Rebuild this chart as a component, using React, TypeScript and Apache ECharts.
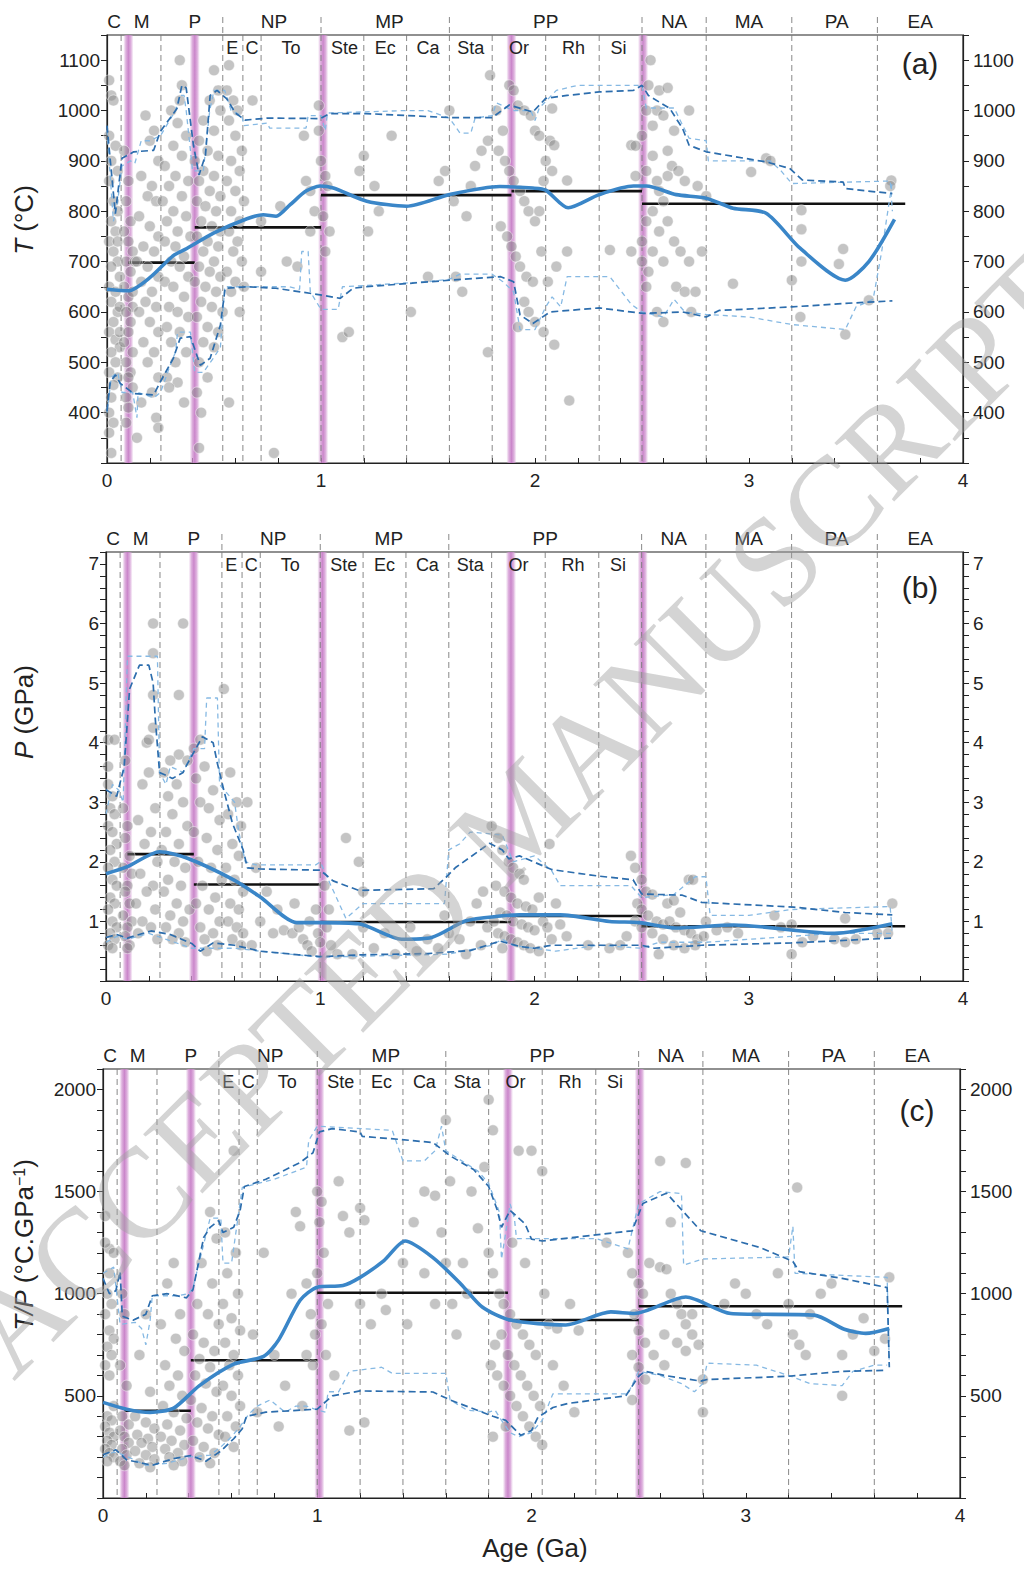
import React, { useEffect, useRef } from "react";
import * as echarts from "echarts";

// ---------- geological time scale ----------
const boundaries = [0.066, 0.252, 0.541, 0.635, 0.72, 1.0, 1.2, 1.4, 1.6, 1.8, 2.05, 2.3, 2.5, 2.8, 3.2, 3.6];
const eonBoundaries = [0.541, 1.0, 1.6, 2.5, 2.8, 3.2, 3.6];
const pinkBands = [0.1, 0.41, 1.01, 1.89, 2.505];
const eraLabels = ["C", "M", "P", "NP", "MP", "PP", "NA", "MA", "PA", "EA"];
const eraPos = [0.033, 0.162, 0.41, 0.78, 1.32, 2.05, 2.65, 3.0, 3.41, 3.8];
const periodLabels = ["E", "C", "To", "Ste", "Ec", "Ca", "Sta", "Or", "Rh", "Si"];
const periodPos = [0.585, 0.678, 0.86, 1.11, 1.3, 1.5, 1.7, 1.925, 2.18, 2.39];

// ---------- eon-interval averages (black segments) ----------
const segStarts = [0.1, 0.41, 1.0, 1.89, 2.5];
const segEnds = [0.41, 1.0, 1.89, 2.5, 3.73];
const segA = [698, 768, 832, 840, 815];
const segB = [2.13, 1.62, 0.99, 1.09, 0.92];
const segC = [427, 674, 1005, 871, 939];

// ---------- panel (a) T ----------
const meanA = [[0,645],[0.1,642],[0.2,668],[0.31,712],[0.373,726],[0.5,757],[0.654,785],[0.73,793],[0.79,790],[0.856,813],[0.93,840],[0.996,850],[1.058,846],[1.214,820],[1.4,810],[1.6,833],[1.836,849],[1.99,846],[2.05,842],[2.155,807],[2.3,833],[2.46,850],[2.52,850],[2.66,833],[2.8,826],[2.925,806],[3.08,796],[3.24,726],[3.45,663],[3.56,700],[3.68,784]];
const hiA = [[0,970],[0.039,795],[0.07,905],[0.125,918],[0.218,921],[0.249,958],[0.327,1004],[0.35,1050],[0.37,1045],[0.404,931],[0.43,872],[0.46,911],[0.482,1030],[0.514,1040],[0.56,1023],[0.6,995],[0.646,981],[0.75,985],[0.996,984],[1.04,994],[1.21,994],[1.4,990],[1.6,986],[1.8,986],[1.88,1011],[1.99,997],[2.05,1024],[2.15,1030],[2.3,1037],[2.46,1040],[2.5,1050],[2.53,1030],[2.63,1004],[2.69,964],[2.72,931],[2.8,918],[3.08,898],[3.19,885],[3.25,862],[3.44,858],[3.45,845],[3.67,835]];
const loA = [[0,403],[0.015,461],[0.04,475],[0.062,458],[0.124,438],[0.218,435],[0.249,461],[0.31,508],[0.342,548],[0.39,551],[0.436,494],[0.482,508],[0.53,574],[0.552,647],[0.654,650],[0.79,647],[0.996,634],[1.09,627],[1.15,647],[1.21,650],[1.6,663],[1.84,670],[1.9,660],[1.93,594],[1.99,577],[2.07,600],[2.3,608],[2.505,597],[2.69,600],[2.8,590],[2.86,603],[3.2,610],[3.45,617],[3.67,622]];
const hiLA = [[0,960],[0.03,780],[0.05,820],[0.07,890],[0.11,900],[0.13,895],[0.16,940],[0.2,940],[0.25,950],[0.32,1000],[0.34,1030],[0.36,1030],[0.37,1000],[0.4,880],[0.45,880],[0.48,1000],[0.5,1040],[0.55,1040],[0.58,1000],[0.63,990],[0.64,970],[0.75,975],[0.76,965],[0.93,965],[0.94,990],[1.0,990],[1.02,960],[1.03,995],[1.4,1000],[1.5,1000],[1.6,985],[1.65,955],[1.7,955],[1.72,985],[1.8,990],[1.82,1015],[1.9,1000],[1.98,1000],[2.0,980],[2.02,1005],[2.1,1040],[2.2,1050],[2.5,1050],[2.52,1005],[2.65,1005],[2.72,945],[2.8,940],[2.81,900],[3.1,900],[3.15,880],[3.2,855],[3.66,860],[3.67,800]];
const loLA = [[0,400],[0.02,470],[0.05,480],[0.07,440],[0.12,440],[0.14,390],[0.145,440],[0.22,430],[0.25,440],[0.3,500],[0.32,520],[0.33,560],[0.39,560],[0.41,480],[0.45,480],[0.5,510],[0.53,530],[0.55,650],[0.7,650],[0.85,650],[0.9,645],[0.91,720],[0.94,720],[0.95,640],[1.0,605],[1.08,605],[1.1,650],[1.5,660],[1.6,665],[1.65,675],[1.8,675],[1.85,660],[1.9,640],[1.93,565],[2.0,565],[2.05,610],[2.08,630],[2.12,610],[2.15,670],[2.35,670],[2.45,615],[2.5,600],[2.6,590],[2.65,625],[2.7,600],[2.8,595],[3.0,590],[3.2,575],[3.45,565],[3.5,610],[3.58,625],[3.62,720],[3.67,860]];
const scatterA = [
[0.01,1060],[0.02,1030],[0.03,1020],[0.01,950],[0.04,930],[0.02,900],[0.05,880],[0.01,860],[0.03,820],[0.05,800],[0.02,780],[0.04,760],[0.01,740],[0.03,720],[0.05,700],[0.02,690],[0.06,670],[0.01,650],[0.04,640],[0.02,620],[0.05,600],[0.03,580],[0.01,560],[0.04,545],[0.06,530],[0.02,520],[0.04,500],[0.01,480],[0.05,470],[0.03,455],[0.02,430],[0.01,400],[0.03,380],[0.01,360],[0.02,320],[0.06,610],[0.06,560],[0.05,740],
[0.08,920],[0.10,860],[0.09,820],[0.11,780],[0.08,760],[0.10,740],[0.12,720],[0.09,700],[0.11,680],[0.08,650],[0.10,630],[0.12,610],[0.09,600],[0.11,580],[0.10,560],[0.08,540],[0.12,520],[0.09,500],[0.11,480],[0.10,470],[0.12,450],[0.09,430],[0.10,410],[0.09,380],[0.12,640],[0.13,700],
[0.18,990],[0.22,960],[0.20,940],[0.24,900],[0.16,870],[0.21,850],[0.19,830],[0.23,820],[0.15,790],[0.20,770],[0.24,750],[0.17,730],[0.22,720],[0.14,700],[0.19,690],[0.24,670],[0.16,660],[0.21,640],[0.18,620],[0.23,610],[0.15,600],[0.20,580],[0.24,560],[0.17,540],[0.22,520],[0.19,500],[0.24,470],[0.21,440],[0.16,420],[0.23,390],[0.24,370],[0.14,350],
[0.34,1100],[0.35,1050],[0.34,1020],[0.30,1000],[0.33,975],[0.37,950],[0.31,930],[0.35,910],[0.27,890],[0.32,870],[0.38,860],[0.29,850],[0.35,830],[0.26,820],[0.31,800],[0.37,790],[0.28,780],[0.33,760],[0.39,750],[0.27,740],[0.32,730],[0.36,710],[0.30,700],[0.34,690],[0.38,670],[0.27,660],[0.31,650],[0.36,630],[0.29,610],[0.33,600],[0.38,590],[0.28,570],[0.34,560],[0.30,540],[0.37,520],[0.32,500],[0.28,470],[0.33,460],[0.29,450],[0.36,420],
[0.50,1080],[0.52,1040],[0.48,1020],[0.53,1000],[0.45,980],[0.50,960],[0.43,940],[0.47,920],[0.52,910],[0.41,900],[0.45,880],[0.50,870],[0.43,860],[0.48,840],[0.53,830],[0.42,820],[0.46,810],[0.51,800],[0.44,780],[0.49,770],[0.53,760],[0.42,750],[0.47,740],[0.52,730],[0.45,720],[0.50,700],[0.43,690],[0.48,680],[0.53,670],[0.41,660],[0.46,650],[0.51,640],[0.44,620],[0.49,610],[0.54,600],[0.42,590],[0.47,570],[0.52,560],[0.45,540],[0.50,530],[0.43,500],[0.47,470],[0.42,440],[0.44,400],[0.43,330],
[0.57,1090],[0.56,1040],[0.59,1020],[0.61,1000],[0.57,980],[0.60,950],[0.63,920],[0.58,900],[0.62,880],[0.56,860],[0.60,840],[0.64,820],[0.58,800],[0.62,780],[0.57,760],[0.61,740],[0.59,720],[0.63,700],[0.56,680],[0.60,660],[0.58,640],[0.62,600],[0.57,420],[0.64,650],
[0.68,1020],[0.72,780],[0.81,810],[0.84,700],[0.93,860],[0.95,840],[0.97,800],[0.95,760],[0.99,1010],[0.99,960],[1.00,900],[0.92,950],[0.78,320],[0.72,680],[0.89,690],
[1.02,870],[1.03,850],[1.01,790],[1.04,760],[1.02,720],[1.10,550],[1.13,560],[1.18,880],[1.20,910],[1.25,850],[1.27,800],[1.22,760],[1.33,950],[1.42,600],[1.55,860],[1.58,880],[1.60,1000],[1.62,820],[1.68,790],[1.70,850],[1.72,890],[1.75,920],[1.78,940],[1.79,1070],[1.78,520],[1.63,670],[1.50,670],[1.66,640],
[1.82,1000],[1.85,960],[1.88,1050],[1.90,1040],[1.92,1010],[1.95,1000],[1.98,990],[2.00,960],[2.02,950],[1.83,920],[1.86,900],[1.88,880],[1.90,860],[1.93,840],[1.95,820],[1.97,800],[2.00,780],[1.84,770],[1.87,750],[1.89,730],[1.91,710],[1.93,690],[1.96,670],[1.99,660],[2.02,800],[2.04,860],[2.05,900],[2.07,940],[2.08,880],[2.10,690],[2.00,580],[1.95,620],[2.03,720],[2.06,660],[1.92,570],[1.97,600],[2.04,560],[2.09,535],[2.08,1004],[2.09,931],
[2.15,861],[2.15,720],[2.16,424],[2.35,723],[2.45,931],[2.45,720],
[2.54,1100],[2.53,1050],[2.58,1040],[2.62,1045],[2.57,1000],[2.60,990],[2.52,1000],[2.55,970],[2.65,960],[2.72,1000],[2.62,920],[2.55,910],[2.50,950],[2.47,930],[2.47,870],[2.52,880],[2.57,860],[2.62,870],[2.64,890],[2.67,880],[2.70,860],[2.58,840],[2.60,820],[2.55,800],[2.52,780],[2.58,760],[2.62,780],[2.65,740],[2.68,720],[2.72,700],[2.50,740],[2.55,720],[2.60,700],[2.53,680],[2.57,600],[2.60,580],[2.66,650],[2.70,640],[2.75,640],[2.78,720],[2.73,600],[2.50,700],[2.52,650],[2.80,830],[2.76,850],
[3.01,878],[3.08,905],[3.10,900],[2.925,656],[3.245,802],[3.245,764],[3.245,700],[3.24,590],[3.42,695],[3.45,555],[3.56,623],[3.44,725],[3.20,663],[3.665,861],[3.66,850]
];

// ---------- panel (b) P ----------
const meanB = [[0,1.8],[0.1,1.92],[0.25,2.17],[0.38,2.06],[0.6,1.69],[0.72,1.41],[0.89,0.98],[1.0,0.98],[1.18,0.96],[1.38,0.70],[1.52,0.73],[1.68,1.01],[1.84,1.09],[1.93,1.11],[2.12,1.11],[2.35,1.0],[2.49,0.98],[2.66,0.89],[2.93,0.94],[3.4,0.8],[3.67,0.96]];
const hiB = [[0,3.21],[0.05,3.1],[0.085,3.6],[0.11,4.9],[0.156,5.3],[0.2,5.3],[0.22,5.0],[0.23,4.4],[0.25,3.5],[0.31,3.4],[0.36,3.5],[0.37,3.58],[0.45,4.1],[0.5,4.0],[0.52,3.65],[0.55,3.2],[0.59,2.65],[0.64,2.2],[0.66,1.9],[0.72,1.88],[1.0,1.86],[1.06,1.68],[1.18,1.52],[1.53,1.55],[1.59,1.75],[1.63,1.9],[1.79,2.31],[1.85,2.2],[1.88,2.05],[1.93,2.1],[2.08,1.87],[2.3,1.76],[2.46,1.7],[2.5,1.46],[2.69,1.44],[2.78,1.32],[3.21,1.24],[3.45,1.15],[3.67,1.11]];
const loB = [[0,0.73],[0.05,0.78],[0.1,0.72],[0.21,0.84],[0.3,0.78],[0.4,0.63],[0.44,0.5],[0.5,0.64],[0.6,0.6],[0.72,0.5],[0.9,0.44],[1.0,0.41],[1.2,0.44],[1.5,0.46],[1.7,0.51],[1.84,0.67],[1.93,0.58],[2.0,0.55],[2.08,0.6],[2.5,0.6],[2.56,0.55],[2.78,0.6],[3.2,0.64],[3.67,0.72]];
const hiLB = [[0,2.8],[0.03,3.3],[0.06,3.2],[0.08,3.0],[0.1,5.45],[0.24,5.45],[0.25,3.5],[0.28,3.3],[0.3,3.6],[0.36,3.5],[0.41,3.9],[0.46,3.9],[0.47,4.75],[0.52,4.75],[0.53,3.3],[0.6,3.0],[0.62,2.5],[0.65,2.0],[0.7,1.95],[0.98,1.95],[1.0,2.0],[1.05,1.6],[1.12,1.05],[1.2,1.3],[1.58,1.3],[1.6,2.2],[1.65,2.3],[1.7,2.5],[1.85,2.45],[1.9,2.0],[2.0,2.1],[2.08,1.85],[2.12,1.6],[2.45,1.6],[2.5,1.4],[2.65,1.45],[2.75,1.75],[2.8,1.75],[2.82,1.1],[3.0,1.1],[3.2,1.2],[3.66,1.25],[3.67,0.8]];
const loLB = [[0,0.65],[0.05,0.75],[0.1,0.7],[0.2,0.8],[0.4,0.55],[0.6,0.55],[0.72,0.5],[1.0,0.4],[1.6,0.45],[1.8,0.6],[1.85,0.7],[1.9,0.6],[2.0,0.55],[2.1,0.5],[2.3,0.6],[2.5,0.55],[2.58,0.65],[2.8,0.65],[3.2,0.75],[3.4,0.8],[3.67,0.8]];
const scatterB = [
[0.22,6.0],[0.36,6.0],[0.22,5.5],[0.34,4.8],[0.55,4.9],[0.22,4.8],[0.22,4.25],[0.01,4.05],[0.04,4.05],[0.19,4.0],[0.2,4.05],[0.44,4.05],[0.41,3.9],[0.34,3.8],[0.38,3.7],[0.01,3.6],[0.09,3.7],
[0.01,3.3],[0.03,3.1],[0.02,2.9],[0.04,2.8],[0.01,2.6],[0.03,2.5],[0.05,2.3],[0.02,2.2],[0.04,2.0],[0.01,1.9],[0.03,1.7],[0.05,1.6],[0.02,1.4],[0.04,1.3],[0.01,1.2],[0.03,1.0],[0.05,0.9],[0.02,0.8],[0.04,0.7],[0.01,0.6],[0.03,0.55],
[0.08,2.9],[0.1,2.6],[0.09,2.4],[0.11,2.1],[0.08,1.9],[0.12,1.8],[0.1,1.6],[0.09,1.5],[0.11,1.3],[0.08,1.1],[0.12,1.0],[0.1,0.9],[0.09,0.75],[0.11,0.6],[0.1,0.55],
[0.2,3.5],[0.17,3.3],[0.23,2.9],[0.15,2.7],[0.21,2.5],[0.18,2.3],[0.24,2.0],[0.16,1.8],[0.22,1.6],[0.19,1.5],[0.14,1.3],[0.23,1.2],[0.17,1.0],[0.21,0.9],[0.15,0.8],[0.24,0.7],
[0.3,3.7],[0.27,3.5],[0.33,3.3],[0.29,3.1],[0.36,3.0],[0.31,2.8],[0.38,2.6],[0.28,2.5],[0.34,2.3],[0.26,2.2],[0.32,2.0],[0.37,1.9],[0.29,1.7],[0.35,1.6],[0.27,1.5],[0.33,1.3],[0.39,1.2],[0.3,1.1],[0.36,1.0],[0.28,0.9],[0.34,0.8],[0.31,0.7],[0.37,0.65],
[0.46,3.6],[0.42,3.4],[0.5,3.2],[0.44,3.0],[0.48,2.9],[0.53,2.7],[0.41,2.5],[0.47,2.4],[0.52,2.2],[0.43,2.0],[0.49,1.9],[0.54,1.7],[0.45,1.6],[0.51,1.4],[0.42,1.3],[0.48,1.2],[0.53,1.0],[0.44,0.9],[0.5,0.8],[0.46,0.7],[0.52,0.6],[0.47,0.5],
[0.58,3.5],[0.61,3.0],[0.57,2.8],[0.63,2.6],[0.59,2.3],[0.62,2.1],[0.56,1.9],[0.6,1.7],[0.64,1.5],[0.58,1.3],[0.62,1.2],[0.57,1.0],[0.61,0.9],[0.64,0.8],[0.59,0.7],[0.63,0.6],
[0.66,3.0],[0.7,1.9],[0.75,1.5],[0.8,1.2],[0.83,0.85],[0.87,0.8],[0.9,0.9],[0.92,0.7],[0.94,0.6],[0.96,0.5],[0.98,1.2],[0.99,0.8],[1.0,0.65],[0.95,1.0],[0.88,1.3],[0.72,1.0],[0.78,0.8],[0.68,0.6],
[1.02,1.6],[1.04,1.2],[1.03,0.9],[1.05,0.6],[1.08,0.45],[1.15,0.45],[1.12,2.4],[1.18,2.0],[1.2,1.5],[1.2,0.9],[1.25,0.55],[1.35,0.45],[1.45,0.5],[1.55,0.55],[1.6,0.8],[1.65,0.7],[1.7,1.0],[1.73,1.3],[1.76,1.5],[1.78,0.9],[1.75,0.6],[1.68,0.45],[1.42,0.9],[1.3,0.8],[1.5,0.7],[1.58,1.1],
[1.8,2.6],[1.83,2.4],[1.85,2.2],[1.88,2.0],[1.9,1.9],[1.93,1.8],[1.95,1.7],[1.82,1.6],[1.86,1.5],[1.89,1.4],[1.92,1.3],[1.96,1.25],[1.99,1.2],[1.84,1.15],[1.87,1.1],[1.9,1.0],[1.94,0.95],[1.97,0.9],[2.0,0.85],[1.83,0.8],[1.86,0.75],[1.89,0.7],[1.92,0.65],[1.95,0.6],[1.98,0.55],[2.02,0.5],[1.81,1.0],[1.85,0.55],[2.04,1.0],[2.06,0.9],[2.08,0.7],[2.1,1.3],[2.07,2.3],[2.12,0.95],[2.02,1.4],
[2.15,0.75],[2.25,0.6],[2.35,0.55],[2.4,0.6],[2.43,0.75],
[2.45,2.1],[2.47,1.9],[2.5,1.7],[2.52,1.5],[2.55,1.45],[2.48,1.3],[2.5,1.2],[2.53,1.1],[2.57,1.0],[2.6,0.95],[2.63,1.0],[2.66,0.9],[2.7,0.85],[2.73,0.8],[2.76,0.7],[2.79,0.75],[2.47,1.0],[2.5,0.9],[2.55,0.8],[2.6,0.7],[2.65,0.6],[2.7,0.55],[2.75,0.6],[2.58,0.45],[2.62,1.3],[2.65,1.35],[2.72,1.7],[2.74,1.7],[2.68,1.15],[2.8,1.0],
[2.85,0.85],[2.9,0.9],[2.95,0.8],[3.15,0.9],[3.2,0.95],[3.25,0.65],[3.3,0.75],[3.4,0.7],[3.45,0.65],[3.5,0.7],[3.45,1.05],[3.6,0.8],[3.65,0.8],[3.67,1.3],[3.2,0.45],[3.12,1.1]
];

// ---------- panel (c) T/P ----------
const meanC = [[0,468],[0.11,435],[0.22,419],[0.33,440],[0.45,550],[0.61,655],[0.75,693],[0.82,774],[0.92,968],[1.0,1032],[1.12,1040],[1.2,1080],[1.31,1161],[1.41,1258],[1.54,1177],[1.67,1048],[1.77,935],[1.9,871],[2.16,847],[2.37,911],[2.48,903],[2.72,984],[2.93,903],[3.32,895],[3.46,826],[3.56,806],[3.67,830]];
const hiC = [[0,1075],[0.03,1000],[0.06,1015],[0.08,1108],[0.09,890],[0.14,870],[0.2,900],[0.23,990],[0.3,1000],[0.39,980],[0.42,1020],[0.47,1275],[0.5,1325],[0.54,1358],[0.56,1300],[0.61,1325],[0.64,1408],[0.66,1525],[0.76,1560],[0.92,1642],[0.98,1690],[1.01,1792],[1.07,1808],[1.2,1792],[1.21,1770],[1.39,1755],[1.54,1740],[1.62,1675],[1.73,1608],[1.8,1525],[1.84,1410],[1.86,1325],[1.9,1408],[1.97,1342],[2.0,1267],[2.05,1258],[2.3,1288],[2.47,1308],[2.52,1442],[2.63,1492],[2.79,1308],[3.07,1225],[3.22,1158],[3.25,1108],[3.45,1075],[3.66,1030],[3.67,640]];
const loC = [[0,212],[0.06,236],[0.11,187],[0.23,160],[0.33,193],[0.41,208],[0.48,180],[0.55,230],[0.61,290],[0.65,339],[0.67,400],[0.76,420],[1.0,435],[1.07,500],[1.2,524],[1.54,519],[1.62,480],[1.82,400],[1.88,380],[1.95,307],[2.0,330],[2.03,395],[2.1,443],[2.17,463],[2.44,500],[2.5,596],[2.53,620],[2.62,600],[2.79,572],[2.82,580],[3.2,596],[3.45,620],[3.66,625]];
const hiLC = [[0,1100],[0.05,1130],[0.08,850],[0.15,860],[0.18,830],[0.2,750],[0.22,870],[0.23,990],[0.35,990],[0.4,1000],[0.42,1030],[0.5,1370],[0.55,1370],[0.56,1150],[0.6,1150],[0.65,1520],[0.8,1560],[0.95,1620],[0.96,1750],[1.0,1820],[1.35,1800],[1.4,1650],[1.5,1650],[1.55,1700],[1.58,1820],[1.6,1700],[1.75,1600],[1.8,1540],[1.85,1400],[1.86,1170],[1.88,1300],[1.9,1440],[1.92,1370],[1.93,1270],[2.3,1270],[2.45,1220],[2.5,1440],[2.6,1500],[2.7,1490],[2.71,1140],[2.8,1170],[3.2,1180],[3.22,1330],[3.23,1100],[3.45,1090],[3.66,1080],[3.67,650]];
const loLC = [[0,200],[0.05,225],[0.1,210],[0.2,160],[0.3,170],[0.4,200],[0.5,210],[0.55,250],[0.6,300],[0.64,350],[0.68,410],[0.72,450],[0.78,480],[0.85,420],[0.9,450],[0.95,450],[1.0,430],[1.04,420],[1.05,520],[1.1,520],[1.15,620],[1.3,640],[1.35,610],[1.6,610],[1.62,480],[1.7,430],[1.8,420],[1.83,430],[1.86,380],[1.9,320],[1.94,300],[2.0,320],[2.05,380],[2.1,510],[2.45,510],[2.5,620],[2.6,600],[2.7,560],[2.76,520],[2.8,560],[2.82,660],[3.05,650],[3.2,600],[3.3,560],[3.45,550],[3.5,620],[3.6,650],[3.66,650]];
const scatterC = [
[0.01,1380],[0.03,1220],[0.05,1200],[0.01,1250],[0.03,1100],[0.02,1000],[0.04,950],[0.01,900],[0.03,820],[0.05,780],[0.02,740],[0.04,700],[0.01,650],[0.03,600],[0.05,450],[0.02,400],[0.04,380],[0.01,350],[0.03,320],[0.05,300],[0.02,280],[0.04,260],[0.01,240],[0.03,220],[0.05,200],[0.02,180],
[0.09,1000],[0.1,900],[0.08,650],[0.11,550],[0.09,400],[0.12,360],[0.08,330],[0.1,300],[0.12,270],[0.09,240],[0.11,210],[0.08,180],[0.1,160],
[0.2,900],[0.17,700],[0.22,520],[0.15,400],[0.2,370],[0.24,340],[0.16,310],[0.21,290],[0.18,270],[0.23,250],[0.15,230],[0.2,210],[0.24,190],[0.17,170],[0.22,150],
[0.33,1150],[0.3,1050],[0.36,900],[0.27,850],[0.34,780],[0.38,720],[0.29,650],[0.35,600],[0.31,550],[0.37,500],[0.28,450],[0.33,420],[0.39,390],[0.3,360],[0.36,330],[0.27,300],[0.32,280],[0.38,260],[0.29,240],[0.35,220],[0.31,200],[0.37,180],[0.33,160],
[0.5,1400],[0.53,1270],[0.46,1150],[0.51,1050],[0.44,950],[0.49,900],[0.54,850],[0.42,800],[0.47,760],[0.52,720],[0.45,680],[0.5,640],[0.43,600],[0.48,560],[0.53,520],[0.41,480],[0.46,440],[0.51,400],[0.44,370],[0.49,340],[0.54,310],[0.42,280],[0.47,250],[0.52,220],[0.45,200],[0.5,170],
[0.61,1700],[0.57,1300],[0.62,1200],[0.58,1100],[0.63,1000],[0.56,950],[0.6,880],[0.64,820],[0.57,760],[0.61,700],[0.59,650],[0.63,600],[0.56,550],[0.6,500],[0.64,450],[0.58,400],[0.62,350],[0.57,300],[0.61,250],
[0.75,1200],[0.7,800],[0.8,700],[0.85,550],[0.9,1400],[0.92,1330],[0.95,1050],[0.97,900],[0.99,800],[0.98,650],[0.93,450],[0.72,420],[0.88,1000],[0.82,350],[0.95,700],
[1.0,1500],[1.02,1450],[1.01,1350],[1.03,1200],[1.0,1100],[1.05,950],[1.02,850],[1.04,700],[1.08,600],[1.1,1550],[1.12,1380],[1.2,1420],[1.22,1360],[1.15,1300],[1.2,950],[1.25,850],[1.3,1000],[1.32,920],[1.15,330],[1.22,370],[1.42,850],[1.45,1350],[1.5,1500],[1.55,1480],[1.58,1300],[1.6,1850],[1.62,1550],[1.6,1150],[1.63,950],[1.65,800],[1.68,1150],[1.7,1000],[1.72,1500],[1.75,1320],[1.78,1620],[1.8,1950],[1.82,1800],[1.55,950],[1.5,1100],[1.4,1150],
[1.8,1200],[1.82,1100],[1.85,1000],[1.87,950],[1.9,900],[1.93,850],[1.96,800],[1.99,750],[2.02,700],[1.81,650],[1.84,600],[1.87,550],[1.9,500],[1.93,450],[1.96,400],[1.99,350],[2.02,300],[2.05,260],[1.83,750],[1.86,800],[1.89,700],[1.92,650],[1.95,600],[1.98,550],[2.01,500],[1.82,300],[1.88,350],[1.94,1700],[2.0,1700],[2.05,1600],[2.06,1000],[2.08,850],[2.1,650],[2.04,450],[1.97,1150],[1.91,1250],
[2.12,830],[2.18,950],[2.22,820],[2.15,550],[2.2,420],[2.35,1250],[2.45,1200],
[2.47,1100],[2.5,1050],[2.52,1000],[2.48,900],[2.5,820],[2.53,760],[2.47,700],[2.5,640],[2.53,580],[2.47,480],[2.55,1150],[2.6,1130],[2.63,1120],[2.65,1000],[2.68,950],[2.7,900],[2.72,850],[2.62,800],[2.68,760],[2.72,720],[2.75,800],[2.6,1650],[2.72,1640],[2.65,1350],[2.57,700],[2.62,650],[2.78,750],[2.8,580],[2.8,420],[2.75,900],
[2.9,950],[2.95,1050],[3.0,1000],[3.05,900],[3.1,850],[3.15,1100],[3.2,950],[3.22,800],[3.25,750],[3.28,700],[3.24,1520],[3.3,900],[3.45,700],[3.5,800],[3.55,880],[3.6,720],[3.65,780],[3.67,1080],[3.45,500],[3.4,1050],[3.35,1000]
];

// ---------- styling ----------
const FONT = "'Liberation Sans', Arial, sans-serif";
const INK = "#222";
const DARK_BLUE = "#2c6dad";
const LIGHT_BLUE = "#86b9e3";
const MEAN_BLUE = "#3a86c8";

const isNear = (v: number, k: number) => Math.abs(v - k) < 1e-6;

const panels = [
  {
    grid: { left: 107, top: 35, width: 856, height: 428 },
    yMin: 300, yMax: 1150, yInt: 50,
    fmt: (v: number) => (Math.round(v) % 100 === 0 && v >= 400 && v <= 1100 ? String(Math.round(v)) : ""),
    scatter: scatterA, mean: meanA, hi: hiA, lo: loA, hiL: hiLA, loL: loLA, seg: segA,
  },
  {
    grid: { left: 106, top: 552, width: 857, height: 429 },
    yMin: 0, yMax: 7.2, yInt: 0.2,
    fmt: (v: number) => {
      const r = Math.round(v);
      return isNear(v, r) && r >= 1 && r <= 7 ? String(r) : "";
    },
    scatter: scatterB, mean: meanB, hi: hiB, lo: loB, hiL: hiLB, loL: loLB, seg: segB,
  },
  {
    grid: { left: 103, top: 1069, width: 857, height: 429 },
    yMin: 0, yMax: 2100, yInt: 100,
    fmt: (v: number) => (Math.round(v) % 500 === 0 && v > 0 && v <= 2000 ? String(Math.round(v)) : ""),
    scatter: scatterC, mean: meanC, hi: hiC, lo: loC, hiL: hiLC, loL: loLC, seg: segC,
  },
];

function buildOption() {
  const grid: any[] = [];
  const xAxis: any[] = [];
  const yAxis: any[] = [];
  const series: any[] = [];

  panels.forEach((p, gi) => {
    grid.push({ ...p.grid, show: true, borderColor: INK, borderWidth: 1.2, backgroundColor: "transparent" });
    xAxis.push({
      type: "value", gridIndex: gi, min: 0, max: 4, interval: 0.2,
      axisLine: { lineStyle: { color: INK, width: 1.2 } },
      axisTick: { inside: true, length: 5, lineStyle: { color: INK } },
      splitLine: { show: false },
      axisLabel: {
        color: INK, fontSize: 19, fontFamily: FONT, margin: 8,
        formatter: (v: number) => { const r = Math.round(v); return isNear(v, r) ? String(r) : ""; },
      },
    });
    const yBase = {
      type: "value", gridIndex: gi, min: p.yMin, max: p.yMax, interval: p.yInt,
      axisLine: { show: true, lineStyle: { color: INK, width: 1.2 } },
      axisTick: { show: true, length: 6, lineStyle: { color: INK } },
      splitLine: { show: false },
      axisLabel: { color: INK, fontSize: 19, fontFamily: FONT, formatter: p.fmt, showMinLabel: true, showMaxLabel: true },
    };
    yAxis.push({ ...yBase, position: "left", axisLabel: { ...yBase.axisLabel, margin: 7 } });
    yAxis.push({ ...yBase, position: "right", axisLabel: { ...yBase.axisLabel, margin: 10 } });

    const base = { xAxisIndex: gi, yAxisIndex: gi * 2, silent: true };

    // pink bands
    series.push({
      ...base, type: "custom", z: 1,
      data: pinkBands.map((b) => [b, p.yMin]),
      renderItem: (params: any, api: any) => {
        const cs = params.coordSys;
        const x0 = api.coord([api.value(0) - 0.024, api.value(1)])[0];
        const x1 = api.coord([api.value(0) + 0.024, api.value(1)])[0];
        return {
          type: "rect",
          shape: { x: x0, y: cs.y, width: x1 - x0, height: cs.height },
          style: {
            fill: new echarts.graphic.LinearGradient(0, 0, 1, 0, [
              { offset: 0, color: "rgba(215,165,215,0)" },
              { offset: 0.25, color: "rgba(210,150,210,0.75)" },
              { offset: 0.5, color: "rgba(196,120,196,0.9)" },
              { offset: 0.75, color: "rgba(210,150,210,0.75)" },
              { offset: 1, color: "rgba(215,165,215,0)" },
            ]),
          },
        };
      },
    });

    // vertical dashed boundaries
    series.push({
      ...base, type: "custom", z: 1,
      data: boundaries.map((b) => [b, p.yMin]),
      renderItem: (params: any, api: any) => {
        const cs = params.coordSys;
        const x = api.coord([api.value(0), api.value(1)])[0];
        return {
          type: "line",
          shape: { x1: x, y1: cs.y, x2: x, y2: cs.y + cs.height },
          style: { stroke: "#7a7a7a", lineWidth: 0.9, lineDash: [6, 4] },
        };
      },
    });
    // era boundary extensions above the frame
    series.push({
      ...base, type: "custom", z: 1,
      data: eonBoundaries.map((b) => [b, p.yMin]),
      renderItem: (params: any, api: any) => {
        const cs = params.coordSys;
        const x = api.coord([api.value(0), api.value(1)])[0];
        return {
          type: "line",
          shape: { x1: x, y1: cs.y - 18, x2: x, y2: cs.y },
          style: { stroke: "#7a7a7a", lineWidth: 0.9, lineDash: [6, 4] },
        };
      },
    });
    // era labels (above) and period labels (inside)
    series.push({
      ...base, type: "custom", z: 6,
      data: eraPos.map((b) => [b, p.yMin]),
      renderItem: (params: any, api: any) => {
        const cs = params.coordSys;
        const x = api.coord([api.value(0), api.value(1)])[0];
        return {
          type: "text", x, y: cs.y - 14,
          style: { text: eraLabels[params.dataIndex], fontSize: 19, fontFamily: FONT, fill: INK, align: "center", verticalAlign: "middle" },
        };
      },
    });
    series.push({
      ...base, type: "custom", z: 6,
      data: periodPos.map((b) => [b, p.yMin]),
      renderItem: (params: any, api: any) => {
        const cs = params.coordSys;
        const x = api.coord([api.value(0), api.value(1)])[0];
        return {
          type: "text", x, y: cs.y + 13,
          style: { text: periodLabels[params.dataIndex], fontSize: 18, fontFamily: FONT, fill: INK, align: "center", verticalAlign: "middle" },
        };
      },
    });

    // black average segments
    segStarts.forEach((s, k) => {
      series.push({
        ...base, type: "line", z: 2, symbol: "none",
        data: [[s, p.seg[k]], [segEnds[k], p.seg[k]]],
        lineStyle: { color: "#111", width: 2.6 },
      });
    });

    // scatter
    series.push({
      ...base, type: "scatter", z: 3, symbolSize: 11,
      data: p.scatter,
      itemStyle: { color: "rgba(132,132,132,0.6)", borderColor: "rgba(255,255,255,0.85)", borderWidth: 0.7 },
    });

    // dashed envelopes
    const dashed = (data: number[][], color: string, width: number, dash: number[]) => ({
      ...base, type: "line", z: 4, symbol: "none", data,
      lineStyle: { color, width, type: dash },
    });
    series.push(dashed(p.hiL, LIGHT_BLUE, 1.3, [5, 4]));
    series.push(dashed(p.loL, LIGHT_BLUE, 1.3, [5, 4]));
    series.push(dashed(p.hi, DARK_BLUE, 1.7, [7, 4]));
    series.push(dashed(p.lo, DARK_BLUE, 1.7, [7, 4]));

    // mean curve
    series.push({
      ...base, type: "line", z: 5, symbol: "none", smooth: 0.25,
      data: p.mean,
      lineStyle: { color: MEAN_BLUE, width: 3.6 },
    });
  });

  const txt = (text: string, x: number, y: number, size: number, rotation = 0, rich?: any) => ({
    type: "text", x, y, rotation, z: 50,
    style: { text, fontSize: size, fontFamily: FONT, fill: INK, align: "center", verticalAlign: "middle", rich },
  });
  const graphic: any[] = [
    txt("{i|T} (°C)", 24, 220, 26, Math.PI / 2, { i: { fontStyle: "italic", fontSize: 26, fontFamily: FONT, fill: INK } }),
    txt("{i|P} (GPa)", 24, 712, 26, Math.PI / 2, { i: { fontStyle: "italic", fontSize: 26, fontFamily: FONT, fill: INK } }),
    txt("{i|T/P} (°C.GPa{s|−1})", 24, 1245, 26, Math.PI / 2, {
      i: { fontStyle: "italic", fontSize: 26, fontFamily: FONT, fill: INK },
      s: { fontSize: 16, fontFamily: FONT, fill: INK, verticalAlign: "top", padding: [0, 0, 10, 0] },
    }),
    txt("Age (Ga)", 535, 1548, 26),
    txt("(a)", 920, 63, 30),
    txt("(b)", 920, 587, 30),
    txt("(c)", 917, 1110, 30),
    {
      type: "text", x: 520, y: 815, rotation: Math.PI / 4, z: 100, silent: true,
      style: {
        text: "ACCEPTED MANUSCRIPT", fontSize: 128, fontFamily: "'Liberation Serif', 'Times New Roman', serif",
        fill: "rgba(160,160,160,0.45)", align: "center", verticalAlign: "middle",
      },
    },
  ];

  return { animation: false, backgroundColor: "#fff", grid, xAxis, yAxis, series, graphic };
}

export default function App() {
  const ref = useRef<HTMLDivElement>(null);
  useEffect(() => {
    const chart = echarts.init(ref.current!, null, { renderer: "svg" });
    chart.setOption(buildOption() as any);
    return () => chart.dispose();
  }, []);
  return (
    <div
      ref={ref}
      style={{ position: "absolute", left: 0, top: 0, width: 1024, height: 1569, background: "#fff" }}
    />
  );
}
